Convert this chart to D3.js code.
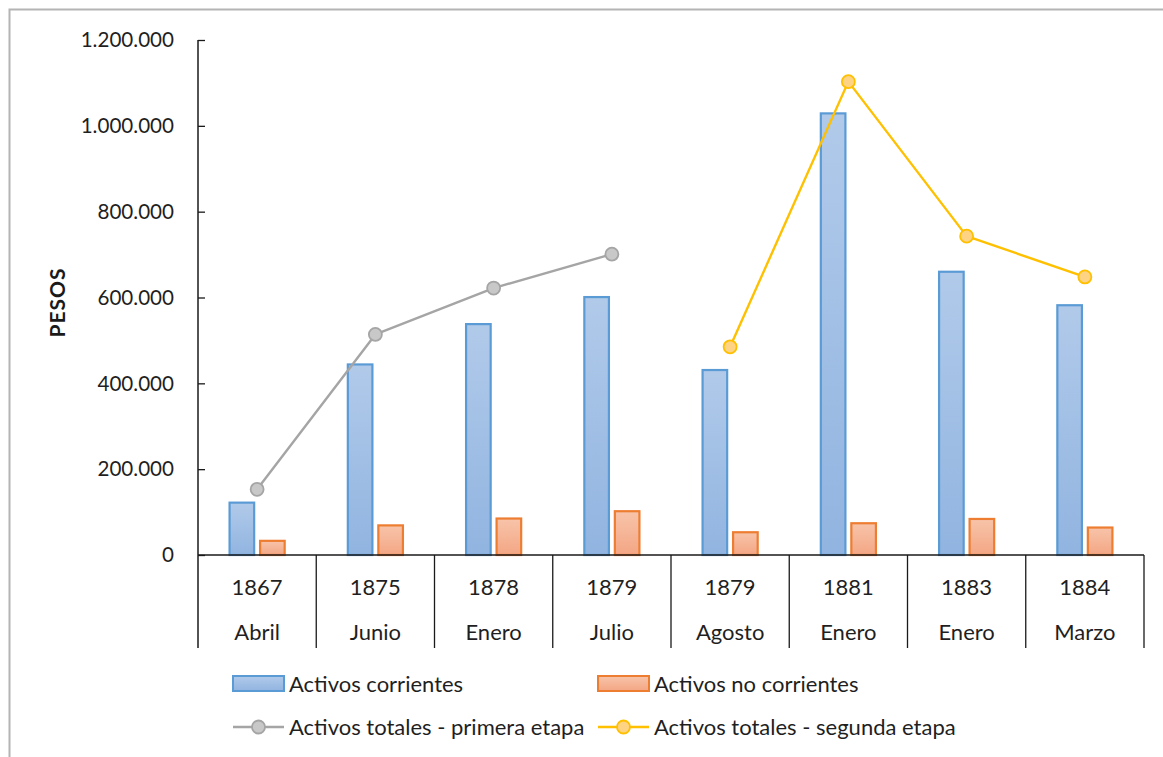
<!DOCTYPE html>
<html lang="es">
<head>
<meta charset="utf-8">
<script src="https://cdn.jsdelivr.net/npm/d3@7"></script>
<style>
  html, body { margin: 0; padding: 0; background: #fff; }
  svg { display: block; font-family: Lato, "Open Sans", sans-serif; }
</style>
</head>
<body>
<svg id="chart" width="1163" height="757"></svg>
<script>
// Categorías: año y mes de cada balance
const years = ["1867", "1875", "1878", "1879", "1879", "1881", "1883", "1884"];
const months = ["Abril", "Junio", "Enero", "Julio", "Agosto", "Enero", "Enero", "Marzo"];

// Series en pesos
const activosCorrientes = [122000, 444000, 538000, 601000, 431000, 1029000, 660000, 582000];
const activosNoCorrientes = [33000, 69000, 85000, 102000, 53000, 74000, 84000, 64000];
const totalesPrimeraEtapa = [153000, 514000, 622000, 701000, null, null, null, null];
const totalesSegundaEtapa = [null, null, null, null, 485000, 1103000, 743000, 648000];

// Marcas del eje de valores
const yTicks = [0, 200000, 400000, 600000, 800000, 1000000, 1200000];

const seriesNames = [
  "Activos corrientes",
  "Activos no corrientes",
  "Activos totales - primera etapa",
  "Activos totales - segunda etapa"
];

const svg = d3.select("#chart");
const plot = { left: 198, right: 1144, top: 40, bottom: 555, axisBottom: 648 };
const idx = d3.range(years.length);

const locale = d3.formatLocale({ decimal: ",", thousands: ".", grouping: [3], currency: ["$", ""] });
const fmt = locale.format(",d");

const x = d3.scaleBand().domain(idx).range([plot.left, plot.right]).padding(0);
const y = d3.scaleLinear().domain([0, 1200000]).range([plot.bottom, plot.top]);

const step = x.bandwidth();
const barW = step * 0.208;
const barGap = step * 0.05;

// Degradados de relleno de las barras
const defs = svg.append("defs");
function grad(id, c1, c2) {
  const g = defs.append("linearGradient").attr("id", id)
    .attr("x1", 0).attr("y1", 0).attr("x2", 0).attr("y2", 1);
  g.append("stop").attr("offset", "0%").attr("stop-color", c1);
  g.append("stop").attr("offset", "100%").attr("stop-color", c2);
}
grad("gBlue", "#b1caea", "#91b4e0");
grad("gOrange", "#f8c4aa", "#f3a684");

// Marco exterior
svg.append("path")
  .attr("d", "M9.5,757 L9.5,9.5 L1163,9.5")
  .attr("fill", "none").attr("stroke", "#b4b4b4").attr("stroke-width", 2);

// Barras
const groups = svg.append("g").selectAll("g").data(idx).join("g");
groups.append("rect")
  .attr("x", i => x(i) + step / 2 - barGap / 2 - barW)
  .attr("y", i => y(activosCorrientes[i]))
  .attr("width", barW)
  .attr("height", i => y(0) - y(activosCorrientes[i]))
  .attr("fill", "url(#gBlue)")
  .attr("stroke", "#5b9bd5").attr("stroke-width", 2.2);
groups.append("rect")
  .attr("x", i => x(i) + step / 2 + barGap / 2)
  .attr("y", i => y(activosNoCorrientes[i]))
  .attr("width", barW)
  .attr("height", i => y(0) - y(activosNoCorrientes[i]))
  .attr("fill", "url(#gOrange)")
  .attr("stroke", "#ed7d31").attr("stroke-width", 2.2);

// Eje de valores
const yAxis = d3.axisRight(y).tickValues(yTicks).tickSize(7).tickFormat("");
const yAxisG = svg.append("g").attr("transform", `translate(${plot.left},0)`).call(yAxis);
yAxisG.select(".domain").remove();
yAxisG.selectAll(".tick line").attr("stroke", "#1a1a1a").attr("stroke-width", 1.3);
svg.append("line")
  .attr("x1", plot.left).attr("x2", plot.left)
  .attr("y1", plot.top).attr("y2", plot.axisBottom)
  .attr("stroke", "#1a1a1a").attr("stroke-width", 1.5);

svg.append("g").selectAll("text").data(yTicks).join("text")
  .attr("x", 174).attr("y", d => y(d))
  .attr("dy", "0.35em")
  .attr("text-anchor", "end")
  .attr("font-size", 20.6)
  .attr("fill", "#1f1f1f")
  .text(d => fmt(d));

svg.append("text")
  .attr("transform", `translate(65,${(plot.top + plot.bottom) / 2 + 5}) rotate(-90)`)
  .attr("text-anchor", "middle")
  .attr("font-size", 21)
  .attr("font-weight", "bold")
  .attr("letter-spacing", 1)
  .attr("fill", "#1a1a1a")
  .text("PESOS");

// Eje de categorías con divisiones
svg.append("line")
  .attr("x1", plot.left).attr("x2", plot.right)
  .attr("y1", y(0)).attr("y2", y(0))
  .attr("stroke", "#1a1a1a").attr("stroke-width", 1.5);
svg.append("g").selectAll("line").data(idx.slice(1).concat([years.length])).join("line")
  .attr("x1", i => i < years.length ? x(i) : plot.right)
  .attr("x2", i => i < years.length ? x(i) : plot.right)
  .attr("y1", y(0)).attr("y2", plot.axisBottom)
  .attr("stroke", "#1a1a1a").attr("stroke-width", 1.3);

const catLabels = svg.append("g").attr("font-size", 22).attr("fill", "#1f1f1f").attr("text-anchor", "middle");
catLabels.selectAll("text.year").data(idx).join("text").attr("class", "year")
  .attr("x", i => x(i) + step / 2).attr("y", 587).attr("dy", "0.35em")
  .text(i => years[i]);
catLabels.selectAll("text.month").data(idx).join("text").attr("class", "month")
  .attr("x", i => x(i) + step / 2).attr("y", 632).attr("dy", "0.35em")
  .text(i => months[i]);

// Líneas de activos totales
function drawLine(values, stroke, markerFill) {
  const pts = idx.filter(i => values[i] !== null);
  const line = d3.line().x(i => x(i) + step / 2).y(i => y(values[i]));
  svg.append("path").datum(pts)
    .attr("d", line)
    .attr("fill", "none").attr("stroke", stroke).attr("stroke-width", 2.4)
    .attr("stroke-linejoin", "round");
  svg.append("g").selectAll("circle").data(pts).join("circle")
    .attr("cx", i => x(i) + step / 2).attr("cy", i => y(values[i]))
    .attr("r", 6.5)
    .attr("fill", markerFill).attr("stroke", stroke).attr("stroke-width", 1.8);
}
drawLine(totalesPrimeraEtapa, "#a5a5a5", "#c8c8c8");
drawLine(totalesSegundaEtapa, "#ffc000", "#ffd384");

// Leyenda
const legend = svg.append("g").attr("font-size", 22).attr("fill", "#1f1f1f");
const legendItems = [
  { name: seriesNames[0], type: "bar", fill: "url(#gBlue)", stroke: "#5b9bd5", x: 233, y: 684 },
  { name: seriesNames[1], type: "bar", fill: "url(#gOrange)", stroke: "#ed7d31", x: 598, y: 684 },
  { name: seriesNames[2], type: "line", fill: "#c8c8c8", stroke: "#a5a5a5", x: 233, y: 727 },
  { name: seriesNames[3], type: "line", fill: "#ffd384", stroke: "#ffc000", x: 598, y: 727 }
];
legendItems.forEach(d => {
  const g = legend.append("g");
  if (d.type === "bar") {
    g.append("rect").attr("x", d.x).attr("y", d.y - 8).attr("width", 51).attr("height", 15)
      .attr("fill", d.fill).attr("stroke", d.stroke).attr("stroke-width", 2);
  } else {
    g.append("line").attr("x1", d.x).attr("x2", d.x + 51).attr("y1", d.y).attr("y2", d.y)
      .attr("stroke", d.stroke).attr("stroke-width", 2.4);
    g.append("circle").attr("cx", d.x + 25.5).attr("cy", d.y).attr("r", 6.5)
      .attr("fill", d.fill).attr("stroke", d.stroke).attr("stroke-width", 1.8);
  }
  g.append("text").attr("x", d.x + 56).attr("y", d.y).attr("dy", "0.35em").text(d.name);
});
</script>
</body>
</html>
